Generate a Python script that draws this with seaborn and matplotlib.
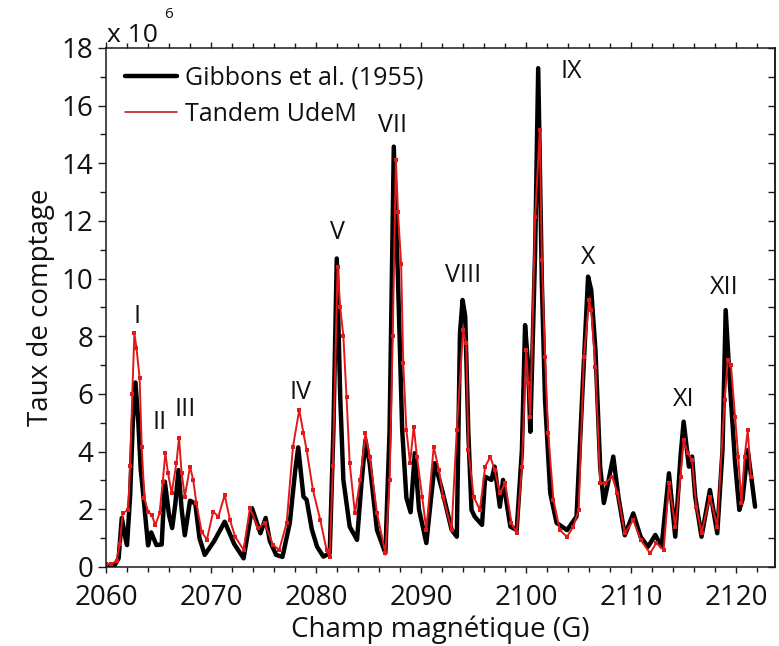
import matplotlib
matplotlib.use("Agg")
import matplotlib.pyplot as plt
from matplotlib.ticker import MultipleLocator
import numpy as np
import pandas as pd
import seaborn as sns

# Magnetic field (G) and count rate (x 10^6), Gibbons et al. (1955)
gibbons_field = [
    2060.0, 2060.8, 2061.2, 2061.5, 2061.9, 2062.0, 2062.3, 2062.55, 2062.8,
    2063.05, 2063.3, 2063.6, 2064.0, 2064.3, 2064.8, 2065.3, 2065.6, 2066.0,
    2066.3, 2066.6, 2066.9, 2067.2, 2067.5, 2068.0, 2068.5, 2068.9, 2069.4,
    2070.3, 2071.3, 2072.2, 2073.1, 2073.9, 2074.7, 2075.2, 2075.6, 2076.2,
    2076.8, 2077.5, 2078.0, 2078.3, 2078.8, 2079.1, 2079.6, 2080.1, 2080.7,
    2081.3, 2081.65, 2081.97, 2082.3, 2082.6, 2083.2, 2083.9, 2084.3, 2084.7,
    2085.1, 2085.8, 2086.6, 2087.0, 2087.4, 2087.8, 2088.2, 2088.6, 2089.0,
    2089.4, 2089.8, 2090.5, 2091.3, 2092.0, 2092.9, 2093.4, 2093.7, 2093.95,
    2094.2, 2094.5, 2094.8, 2095.1, 2095.8, 2096.1, 2096.7, 2097.0, 2097.5,
    2097.8, 2098.5, 2099.1, 2099.6, 2099.9, 2100.2, 2100.4, 2100.86, 2101.15,
    2101.5, 2101.8, 2102.3, 2102.9, 2103.9, 2104.8, 2105.4, 2105.9, 2106.2,
    2106.6, 2107.05, 2107.4, 2107.8, 2108.3, 2108.8, 2109.4, 2110.2, 2110.9,
    2111.6, 2112.3, 2112.9, 2113.6, 2114.2, 2114.7, 2115.0, 2115.5, 2115.8,
    2116.1, 2116.7, 2117.5, 2118.2, 2118.7, 2119.0, 2119.4, 2119.9, 2120.3,
    2120.6, 2121.1, 2121.8,
]
gibbons_rate = [
    0.05, 0.05, 0.3, 1.7, 0.9, 0.76, 2.5, 5.0, 6.4,
    5.2, 3.4, 2.3, 0.75, 1.2, 0.76, 0.78, 2.96, 1.8,
    1.35, 2.2, 3.36, 2.0, 1.1, 2.3, 2.2, 1.0, 0.42,
    0.9, 1.57, 0.8, 0.3, 2.04, 1.17, 1.7, 0.9, 0.42,
    0.35, 1.53, 3.3, 4.15, 2.44, 2.33, 1.3, 0.7, 0.36,
    0.48, 4.75, 10.7, 5.9, 3.02, 1.4, 0.94, 2.8, 4.4,
    3.6, 1.28, 0.48, 4.75, 14.58, 9.95, 4.75, 2.4, 1.9,
    3.95, 2.0, 0.83, 3.6, 2.67, 1.3, 1.05, 8.1, 9.26,
    8.7, 4.64, 1.98, 1.75, 1.46, 3.13, 3.02, 3.48, 2.09,
    3.02, 1.4, 1.28, 4.06, 8.39, 6.95, 4.69, 11.0, 17.3,
    9.85, 5.8, 2.56, 1.53, 1.28, 1.75, 6.38, 10.07, 9.6,
    7.53, 3.48, 2.22, 2.91, 3.83, 2.4, 1.1, 1.86, 1.05,
    0.7, 1.11, 0.7, 3.25, 1.05, 3.83, 5.04, 3.48, 3.83,
    2.44, 1.05, 2.67, 1.17, 4.06, 8.91, 6.37, 3.6, 1.98,
    2.33, 4.06, 2.09,
]

# Tandem UdeM measurement
udem_field = [
    2060.0, 2060.5, 2061.0, 2061.3, 2061.6, 2062.1, 2062.3, 2062.5, 2062.7,
    2062.9, 2063.2, 2063.4, 2063.65, 2064.0, 2064.35, 2064.7, 2065.1, 2065.4,
    2065.65, 2065.9, 2066.25, 2066.7, 2066.95, 2067.2, 2067.5, 2068.0, 2068.3,
    2068.6, 2069.1, 2069.6, 2070.2, 2070.7, 2071.3, 2071.8, 2072.3, 2073.1,
    2073.7, 2074.5, 2075.1, 2075.9, 2076.5, 2077.2, 2077.8, 2078.4, 2078.8,
    2079.1, 2079.7, 2080.4, 2081.0, 2081.3, 2081.6, 2082.05, 2082.3, 2082.6,
    2082.9, 2083.2, 2083.7, 2084.2, 2084.7, 2085.1, 2085.8, 2086.6, 2087.0,
    2087.3, 2087.6, 2087.8, 2088.1, 2088.3, 2088.6, 2088.95, 2089.3, 2089.6,
    2090.1, 2090.5, 2091.2, 2091.7, 2092.1, 2092.9, 2093.4, 2094.0, 2094.3,
    2094.5, 2095.0, 2095.6, 2096.1, 2096.6, 2097.0, 2097.5, 2098.0, 2098.6,
    2099.1, 2099.6, 2100.0, 2100.2, 2100.4, 2100.86, 2101.3, 2101.5, 2101.8,
    2102.1, 2102.6, 2103.2, 2103.9, 2104.5, 2105.0, 2105.5, 2106.0, 2106.2,
    2106.6, 2107.05, 2107.5, 2108.2, 2108.7, 2109.4, 2110.2, 2110.9, 2111.8,
    2112.4, 2113.1, 2113.6, 2114.2, 2114.7, 2115.0, 2115.4, 2115.8, 2116.2,
    2116.7, 2117.5, 2118.2, 2118.9, 2119.2, 2119.5, 2119.9, 2120.2, 2120.5,
    2120.8, 2121.1, 2121.4,
]
udem_rate = [
    0.1, 0.1, 0.2, 0.8, 1.87, 1.98, 3.5, 6.0, 8.1,
    7.6, 6.55, 4.17, 2.39, 1.92, 1.8, 1.46, 1.87, 2.96,
    3.95, 3.26, 2.56, 3.6, 4.47, 3.26, 2.44, 3.48, 3.02,
    2.22, 1.23, 0.94, 1.92, 1.75, 2.5, 1.63, 1.05, 0.59,
    2.04, 1.35, 1.53, 0.76, 0.6, 1.53, 4.17, 5.45, 4.64,
    4.06, 2.67, 1.63, 0.59, 0.36, 3.5, 10.42, 9.0, 8.0,
    5.9, 3.6, 1.86, 3.02, 4.64, 3.83, 1.87, 0.48, 3.0,
    8.0, 14.1, 12.3, 10.5, 7.06, 4.75, 3.6, 4.87, 3.83,
    2.44, 1.28, 4.17, 3.36, 2.44, 1.28, 4.75, 8.22, 7.76,
    4.06, 2.44, 1.98, 3.48, 3.83, 3.36, 2.56, 2.91, 1.53,
    1.17, 3.48, 7.53, 6.38, 5.21, 12.15, 15.16, 10.65, 7.3,
    4.64, 2.33, 1.28, 1.05, 1.4, 1.98, 7.3, 9.26, 8.9,
    6.95, 2.91, 2.91, 3.13, 2.56, 1.17, 1.63, 0.94, 0.48,
    0.83, 0.59, 2.91, 1.4, 3.13, 4.4, 3.94, 3.71, 2.09,
    1.17, 2.44, 1.4, 5.79, 7.18, 7.0, 5.21, 3.83, 2.21,
    3.83, 4.75, 3.13,
]

# Resonance labels
peak_names = ["I", "II", "III", "IV", "V", "VII", "VIII", "IX", "X", "XI", "XII"]
peak_label_x = [2062.95, 2065.1, 2067.5, 2078.5, 2082.0, 2087.3, 2094.0, 2104.3, 2105.9, 2115.0, 2118.9]
peak_label_y = [8.7, 5.0, 5.45, 6.04, 11.6, 15.3, 10.1, 17.2, 10.75, 5.8, 9.7]

series_names = ["Gibbons et al. (1955)", "Tandem UdeM"]

sns.set_theme(style="ticks")
FONT = ["Open Sans", "DejaVu Sans"]
plt.rcParams["font.family"] = FONT
plt.rcParams["axes.linewidth"] = 1.1
plt.rcParams["axes.edgecolor"] = "#1a1a1a"

INK = "#111111"

fig = plt.figure(figsize=(7.79, 6.46), dpi=100)
ax = fig.add_axes([0.1361, 0.1223, 0.8588, 0.8034])

gib = pd.DataFrame({"field": gibbons_field, "rate": gibbons_rate})
ude = pd.DataFrame({"field": udem_field, "rate": udem_rate})

sns.lineplot(data=gib, x="field", y="rate", ax=ax, color="black",
             linewidth=3.2, sort=False, label=series_names[0])
sns.lineplot(data=ude, x="field", y="rate", ax=ax, color="#e31818",
             linewidth=1.4, sort=False, marker="s", markersize=3.4,
             markeredgewidth=0, label=series_names[1])

ax.set_xlim(2060, 2123.7)
ax.set_ylim(0, 18)
ax.xaxis.set_major_locator(MultipleLocator(10))
ax.xaxis.set_minor_locator(MultipleLocator(2))
ax.yaxis.set_major_locator(MultipleLocator(2))
ax.yaxis.set_minor_locator(MultipleLocator(1))

ax.tick_params(axis="x", which="both", direction="out", top=True,
               bottom=True, colors="#1a1a1a", labelsize=20, width=1.0)
ax.tick_params(axis="x", which="major", length=4.5, pad=8)
ax.tick_params(axis="x", which="minor", length=3.8)
ax.tick_params(axis="y", which="both", direction="out", left=True,
               right=False, colors="#1a1a1a", labelsize=20, width=1.0)
ax.tick_params(axis="y", which="major", length=6, pad=3)
ax.tick_params(axis="y", which="minor", length=4)

# Right-hand axis with inward ticks
rax = ax.secondary_yaxis("right")
rax.yaxis.set_major_locator(MultipleLocator(1))
rax.tick_params(axis="y", which="both", direction="in", length=5,
                width=1.0, labelright=False, colors="#1a1a1a")

for lbl in ax.get_xticklabels() + ax.get_yticklabels():
    lbl.set_color(INK)

ax.set_xlabel("Champ magnétique (G)", fontsize=20, labelpad=2, color=INK)
ax.set_ylabel("Taux de comptage", fontsize=20, labelpad=5, color=INK)

# Scale factor of the y axis
ax.text(0.0015, 1.0116, "x 10", transform=ax.transAxes, ha="left",
        va="baseline", fontsize=19, color=INK)
ax.text(0.0867, 1.058, "6", transform=ax.transAxes, ha="left",
        va="baseline", fontsize=11, color=INK)

for name, px, py in zip(peak_names, peak_label_x, peak_label_y):
    ax.text(px, py, name, ha="center", va="center", fontsize=18, color=INK)

leg = ax.legend(loc="upper left", bbox_to_anchor=(0.0, 1.002), frameon=False,
                fontsize=18, handlelength=2.1, handletextpad=0.32,
                labelspacing=0.45, borderaxespad=0.35)
for t in leg.get_texts():
    t.set_color(INK)
leg.legend_handles[1].set_marker("")
leg.legend_handles[1].set_color("#b01010")
leg.legend_handles[1].set_linewidth(1.1)

fig.savefig("out.png", dpi=100)
